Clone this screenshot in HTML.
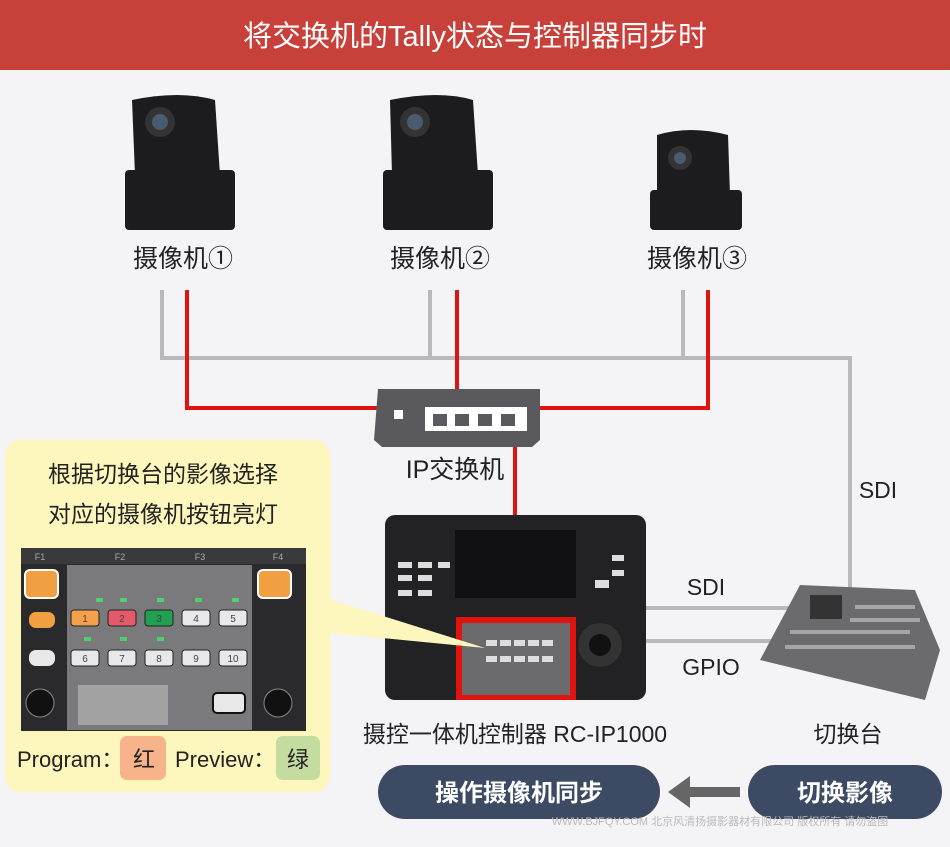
<!DOCTYPE html>
<html><head><meta charset="utf-8"><style>
body{margin:0;width:950px;height:842px;overflow:hidden;background:#f4f3f6;font-family:"Liberation Sans","Noto Sans CJK SC",sans-serif}
</style></head><body>
<svg width="950" height="842" viewBox="0 0 950 842" xmlns="http://www.w3.org/2000/svg" style="font-family:'Liberation Sans','Noto Sans CJK SC',sans-serif">
<rect width="950" height="842" fill="#f4f3f6"/>
<rect width="950" height="70" fill="#c7413a"/>
<text x="475" y="46" font-size="29" fill="#fff" text-anchor="middle">将交换机的Tally状态与控制器同步时</text>

<!-- cameras -->
<g fill="#1c1c1e">
<path d="M132 100 Q180 90 215 100 L220 175 L135 175 Z"/><rect x="125" y="170" width="110" height="60" rx="4"/>
<circle cx="160" cy="122" r="15" fill="#333"/><circle cx="160" cy="122" r="8" fill="#4a5a70"/>
<path d="M390 100 Q440 90 473 100 L478 175 L392 175 Z"/><rect x="383" y="170" width="110" height="60" rx="4"/>
<circle cx="415" cy="122" r="15" fill="#333"/><circle cx="415" cy="122" r="8" fill="#4a5a70"/>
<path d="M657 135 Q690 125 728 135 L730 195 L657 195 Z"/><rect x="650" y="190" width="92" height="40" rx="4"/>
<circle cx="680" cy="158" r="12" fill="#333"/><circle cx="680" cy="158" r="6" fill="#4a5a70"/>
</g>
<g font-size="25" fill="#222" text-anchor="middle">
<text x="183" y="267">摄像机①</text><text x="440" y="267">摄像机②</text><text x="697" y="267">摄像机③</text>
</g>

<!-- gray lines -->
<g stroke="#b9b9bb" stroke-width="4" fill="none">
<path d="M162 290 V358 H850 V590"/><path d="M430 290 V358"/><path d="M683 290 V358"/>
<path d="M645 608 H790"/><path d="M645 641 H780"/>
</g>
<!-- red lines -->
<g stroke="#e0140f" stroke-width="4" fill="none">
<path d="M187 290 V408 H708 V290"/><path d="M457 290 V408"/><path d="M515 445 V517"/>
</g>

<!-- switch -->
<path d="M378 389 H540 V440 L532 447 H382 L374 440 Z" fill="#5a5a5e"/>
<rect x="383" y="441" width="24" height="5" fill="#5a5a5e"/><rect x="505" y="441" width="26" height="6" fill="#5a5a5e"/>
<rect x="394" y="410" width="9" height="9" fill="#fff"/>
<rect x="425" y="407" width="102" height="24" fill="#fff"/>
<g fill="#5a5a5e"><rect x="433" y="414" width="14" height="12"/><rect x="455" y="414" width="14" height="12"/><rect x="478" y="414" width="14" height="12"/><rect x="501" y="414" width="14" height="12"/></g>
<text x="455" y="478" font-size="25" fill="#222" text-anchor="middle">IP交换机</text>
<text x="878" y="498" font-size="23" fill="#222" text-anchor="middle">SDI</text>
<text x="706" y="595" font-size="23" fill="#222" text-anchor="middle">SDI</text>
<text x="711" y="675" font-size="23" fill="#222" text-anchor="middle">GPIO</text>

<!-- controller -->
<rect x="385" y="515" width="261" height="185" rx="10" fill="#222224"/>
<rect x="455" y="530" width="121" height="68" fill="#101012"/>
<g fill="#ddd"><rect x="398" y="562" width="14" height="6"/><rect x="418" y="562" width="14" height="6"/><rect x="438" y="562" width="12" height="6"/><rect x="398" y="575" width="14" height="6"/><rect x="418" y="575" width="14" height="6"/><rect x="398" y="590" width="14" height="6"/><rect x="418" y="590" width="14" height="6"/><rect x="595" y="580" width="14" height="8"/><rect x="612" y="555" width="12" height="6"/><rect x="612" y="570" width="12" height="6"/></g>
<circle cx="600" cy="645" r="22" fill="#333"/><circle cx="600" cy="645" r="11" fill="#111"/>
<rect x="456" y="617" width="120" height="83" fill="#e0140f"/>
<rect x="462" y="623" width="108" height="72" fill="#6b6b6d"/>
<g fill="#ddd"><rect x="486" y="640" width="11" height="6"/><rect x="500" y="640" width="11" height="6"/><rect x="514" y="640" width="11" height="6"/><rect x="528" y="640" width="11" height="6"/><rect x="542" y="640" width="11" height="6"/><rect x="486" y="656" width="11" height="6"/><rect x="500" y="656" width="11" height="6"/><rect x="514" y="656" width="11" height="6"/><rect x="528" y="656" width="11" height="6"/><rect x="542" y="656" width="11" height="6"/></g>
<text x="515" y="742" font-size="23" fill="#222" text-anchor="middle">摄控一体机控制器 RC-IP1000</text>

<!-- switcher -->
<path d="M800 585 L915 590 L940 650 L925 700 L760 660 Z" fill="#6b6b6e"/>
<rect x="810" y="595" width="32" height="24" fill="#333"/>
<g fill="#ccc"><rect x="790" y="630" width="120" height="4" opacity=".6"/><rect x="785" y="645" width="130" height="4" opacity=".6"/><rect x="855" y="605" width="60" height="4" opacity=".6"/><rect x="850" y="618" width="70" height="4" opacity=".6"/></g>
<text x="848" y="742" font-size="23" fill="#222" text-anchor="middle">切换台</text>

<!-- callout -->
<path d="M300 590 L485 648 L300 630 Z" fill="#fdf7bd"/>
<rect x="5" y="440" width="325" height="352" rx="16" fill="#fdf7bd"/>
<text x="163" y="482" font-size="23" fill="#222" text-anchor="middle">根据切换台的影像选择</text>
<text x="163" y="522" font-size="23" fill="#222" text-anchor="middle">对应的摄像机按钮亮灯</text>
<rect x="21" y="548" width="285" height="183" fill="#2a2a2c"/>
<rect x="21" y="548" width="285" height="16" fill="#3a3a3c"/>
<g font-size="9" fill="#aaa" text-anchor="middle"><text x="40" y="560">F1</text><text x="120" y="560">F2</text><text x="200" y="560">F3</text><text x="278" y="560">F4</text></g>
<rect x="67" y="565" width="185" height="165" fill="#7a7a7c"/>
<rect x="25" y="570" width="33" height="28" rx="5" fill="#f0a040" stroke="#fff" stroke-width="2"/>
<rect x="258" y="570" width="33" height="28" rx="5" fill="#f0a040" stroke="#fff" stroke-width="2"/>
<rect x="29" y="612" width="26" height="16" rx="7" fill="#f0a040"/>
<rect x="29" y="650" width="26" height="16" rx="7" fill="#e8e8e8"/>
<circle cx="40" cy="703" r="14" fill="#111" stroke="#888"/><circle cx="278" cy="703" r="14" fill="#111" stroke="#888"/>
<g fill="#4fd070"><rect x="96" y="598" width="7" height="4"/><rect x="120" y="598" width="7" height="4"/><rect x="157" y="598" width="7" height="4"/><rect x="195" y="598" width="7" height="4"/><rect x="232" y="598" width="7" height="4"/><rect x="84" y="637" width="7" height="4"/><rect x="120" y="637" width="7" height="4"/><rect x="157" y="637" width="7" height="4"/></g>
<rect x="71" y="610" width="28" height="16" rx="3" fill="#f5a04a" stroke="#222"/>
<rect x="108" y="610" width="28" height="16" rx="3" fill="#e35a6a" stroke="#222"/>
<rect x="145" y="610" width="28" height="16" rx="3" fill="#20a050" stroke="#222"/>
<rect x="182" y="610" width="28" height="16" rx="3" fill="#e8e8ea" stroke="#222"/>
<rect x="219" y="610" width="28" height="16" rx="3" fill="#e8e8ea" stroke="#222"/>
<g fill="#e8e8ea" stroke="#222"><rect x="71" y="650" width="28" height="16" rx="3"/><rect x="108" y="650" width="28" height="16" rx="3"/><rect x="145" y="650" width="28" height="16" rx="3"/><rect x="182" y="650" width="28" height="16" rx="3"/><rect x="219" y="650" width="28" height="16" rx="3"/></g>
<g font-size="10" fill="#444" text-anchor="middle"><text x="85" y="622">1</text><text x="122" y="622">2</text><text x="159" y="622">3</text><text x="196" y="622">4</text><text x="233" y="622">5</text><text x="85" y="662">6</text><text x="122" y="662">7</text><text x="159" y="662">8</text><text x="196" y="662">9</text><text x="233" y="662">10</text></g>
<g fill="#ccc"><rect x="78" y="685" width="90" height="40" opacity=".5"/></g>
<rect x="213" y="693" width="32" height="20" rx="4" fill="#e8e8e8" stroke="#111" stroke-width="2"/>
<rect x="120" y="736" width="46" height="44" rx="7" fill="#f7b48a"/>
<rect x="276" y="736" width="44" height="44" rx="7" fill="#c5dca0"/>
<g font-size="22" fill="#222"><text x="17" y="767">Program：</text><text x="133" y="767">红</text><text x="175" y="767">Preview：</text><text x="287" y="767">绿</text></g>

<!-- bottom pills -->
<rect x="378" y="765" width="282" height="54" rx="27" fill="#3d4a63"/>
<text x="519" y="801" font-size="24" font-weight="bold" fill="#fff" text-anchor="middle">操作摄像机同步</text>
<rect x="748" y="765" width="194" height="54" rx="27" fill="#3d4a63"/>
<text x="845" y="801" font-size="24" font-weight="bold" fill="#fff" text-anchor="middle">切换影像</text>
<path d="M740 787 H690 V776 L668 792 L690 808 V797 H740 Z" fill="#666"/>
<text x="720" y="825" font-size="11" fill="#bbb" text-anchor="middle">WWW.BJFQY.COM 北京风清扬摄影器材有限公司 版权所有 请勿盗图</text>
</svg>
</body></html>
